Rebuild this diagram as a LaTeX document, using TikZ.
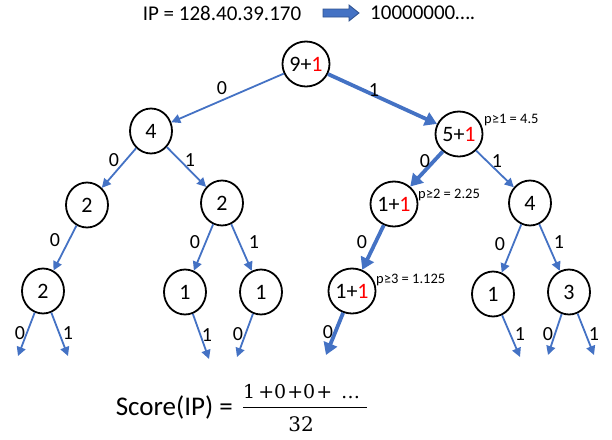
\documentclass[tikz,border=0pt]{standalone}
\usepackage{fontspec}
\setmainfont{Carlito}
\newfontfamily\fracfont{DejaVu Serif}
\usetikzlibrary{shapes.geometric,arrows.meta}
\definecolor{ob}{HTML}{4472C4}
\definecolor{obd}{HTML}{2F528F}
\newcommand{\rd}[1]{\textcolor{red}{#1}}
\begin{document}
\begin{tikzpicture}[x=1pt,y=-1pt,
  nd/.style={draw=black,line width=1.8pt,ellipse,minimum width=42pt,minimum height=45pt,inner sep=0pt,font=\fontsize{22}{26}\selectfont},
  ed/.style={draw=ob,line width=1.8pt,-{Triangle[length=9pt,width=9pt]}},
  edt/.style={draw=ob,line width=3.8pt,-{Triangle[length=12pt,width=14pt]}},
  lb/.style={font=\fontsize{20}{24}\selectfont,inner sep=0pt},
  an/.style={font=\fontsize{14.5}{17}\selectfont,inner sep=0pt,anchor=west}]
\useasboundingbox (0,0) rectangle (612,439);
% top line
\node[font=\fontsize{21}{24}\selectfont,inner sep=0pt] (ip) at (222,13) {IP = 128.40.39.170};
\draw[fill=ob,draw=obd,line width=0.8pt] (323,9) -- (349,9) -- (349,5) -- (359,13) -- (349,21) -- (349,17) -- (323,17) -- cycle;
\node[font=\fontsize{21}{24}\selectfont,inner sep=0pt,anchor=west] (bits) at (370,13) {10000000….};
% nodes
\node[nd] (r) at (306,64) {9+\rd{1}};
\node[nd] (a) at (151,131) {4};
\node[nd] (b) at (459,134) {5+\rd{1}};
\node[nd] (c) at (87,205) {2};
\node[nd] (d) at (222,203) {2};
\node[nd] (e) at (394,204) {1+\rd{1}};
\node[nd] (f) at (530,203) {4};
\node[nd] (g) at (43,291) {2};
\node[nd] (h) at (185,292) {1};
\node[nd] (i) at (261,292) {1};
\node[nd] (j) at (352,291) {1+\rd{1}};
\node[nd] (k) at (493,294) {1};
\node[nd] (l) at (569,292) {3};
% leaf ends
\coordinate (g0) at (18,356);
\coordinate (g1) at (68,356);
\coordinate (h1) at (209,359);
\coordinate (i0) at (237,357);
\coordinate (j0) at (326,355);
\coordinate (k1) at (520,357);
\coordinate (l0) at (548,355);
\coordinate (l1) at (594,355);
% edges
\draw[ed] (r) -- (a);
\draw[edt] (r) -- (b);
\draw[ed] (a) -- (c);
\draw[ed] (a) -- (d);
\draw[edt] (b) -- (e);
\draw[ed] (b) -- (f);
\draw[ed] (c) -- (g);
\draw[ed] (d) -- (h);
\draw[ed] (d) -- (i);
\draw[edt] (e) -- (j);
\draw[ed] (f) -- (k);
\draw[ed] (f) -- (l);
\draw[ed] (g) -- (g0);
\draw[ed] (g) -- (g1);
\draw[ed] (h) -- (h1);
\draw[ed] (i) -- (i0);
\draw[edt] (j) -- (j0);
\draw[ed] (k) -- (k1);
\draw[ed] (l) -- (l0);
\draw[ed] (l) -- (l1);
% edge labels
\node[lb] (lra) at (222,88) {0};
\node[lb] (lrb) at (374,90) {1};
\node[lb] (lac) at (114,160) {0};
\node[lb] (lad) at (190,160) {1};
\node[lb] (lbe) at (425,161) {0};
\node[lb] (lbf) at (497,161) {1};
\node[lb] (lcg) at (55,240) {0};
\node[lb] (ldh) at (195,242) {0};
\node[lb] (ldi) at (254,242) {1};
\node[lb] (lej) at (362,242) {0};
\node[lb] (lfk) at (500,244) {0};
\node[lb] (lfl) at (559,242) {1};
\node[lb] (lg0) at (20,333) {0};
\node[lb] (lg1) at (68,333) {1};
\node[lb] (lh1) at (207,335) {1};
\node[lb] (li0) at (238,334) {0};
\node[lb] (lj0) at (328,332) {0};
\node[lb] (lk1) at (520,334) {1};
\node[lb] (ll0) at (548,334) {0};
\node[lb] (ll1) at (594,334) {1};
% annotations
\node[an] (p1) at (484,120) {p≥1 = 4.5};
\node[an] (p2) at (418,195) {p≥2 = 2.25};
\node[an] (p3) at (376,280) {p≥3 = 1.125};
% score
\node[font=\fontsize{27}{30}\selectfont,inner sep=0pt,anchor=east] (sc) at (233,407) {Score(IP) =};
\node[font=\fracfont\fontsize{19}{22}\selectfont,inner sep=0pt,anchor=west] (num) at (243,392) {1\hspace{3pt}+0\hspace{1pt}+0\hspace{1pt}+\hspace{9pt}…};
\draw[line width=1pt] (243,407) -- (367,407);
\node[font=\fracfont\fontsize{20}{24}\selectfont,inner sep=0pt] (den) at (301,424) {32};
\end{tikzpicture}
\end{document}
